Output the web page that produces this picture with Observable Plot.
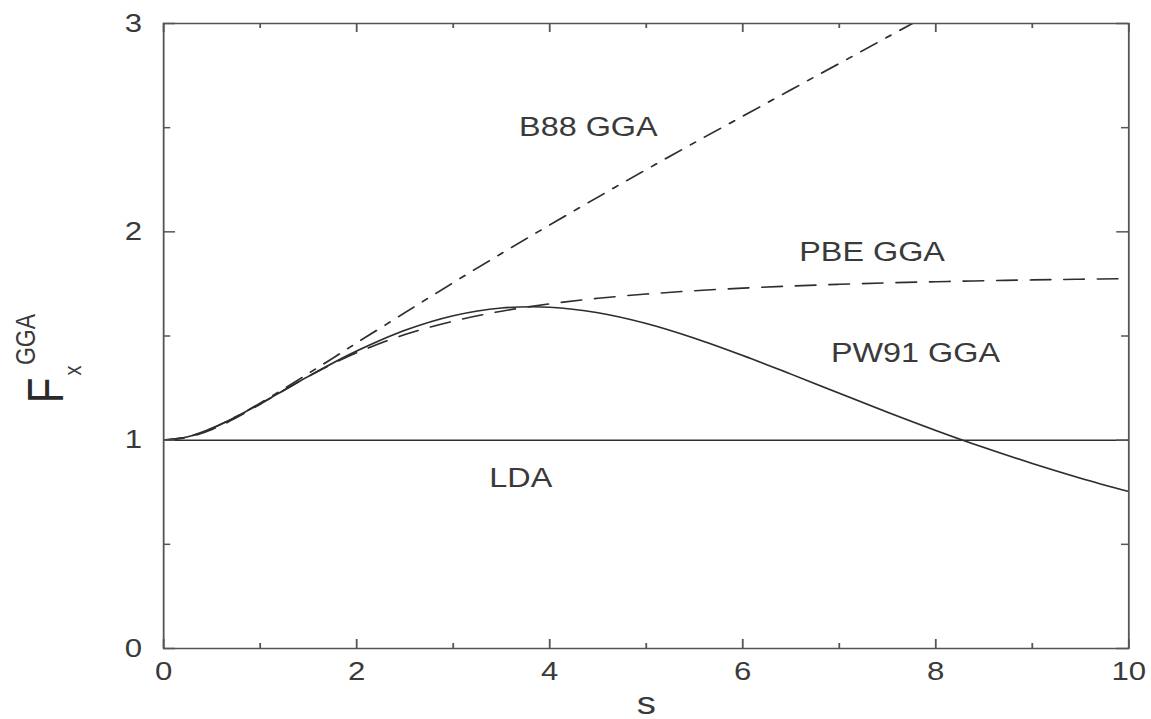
<!DOCTYPE html>
<html><head><meta charset="utf-8">
<script src="https://cdn.jsdelivr.net/npm/d3@7"></script>
<script src="https://cdn.jsdelivr.net/npm/@observablehq/plot@0.6"></script>
<style>html,body{margin:0;padding:0;background:#fff;overflow:hidden}</style>
</head><body><div id="chart"></div>
<script>
// reduced gradient s
const s    = [0, 0.25, 0.5, 0.75, 1, 1.25, 1.5, 1.75, 2, 2.5, 3, 3.5, 4, 4.5, 5, 5.5, 6, 6.5, 7, 7.5, 8, 8.5, 9, 9.5, 10];
// enhancement factors
const b88  = [1, 1.016, 1.057, 1.113, 1.178, 1.248, 1.320, 1.393, 1.467, 1.612, 1.756, 1.896, 2.033, 2.167, 2.299, 2.428, 2.555, 2.682, 2.808, 2.935, 3.060, 3.180, 3.300, 3.415, 3.530];
const pbe  = [1, 1.0135, 1.0514, 1.1070, 1.1724, 1.2404, 1.3060, 1.3661, 1.4197, 1.5069, 1.5714, 1.6189, 1.6542, 1.6809, 1.7013, 1.7172, 1.7298, 1.7399, 1.7481, 1.7549, 1.7605, 1.7652, 1.7692, 1.7726, 1.7756];
const pw91 = [1, 1.0160, 1.0568, 1.1121, 1.1750, 1.2408, 1.3062, 1.3691, 1.4277, 1.5272, 1.5973, 1.6344, 1.6383, 1.6118, 1.5602, 1.4897, 1.4067, 1.3169, 1.2249, 1.1342, 1.0469, 0.9646, 0.8881, 0.8176, 0.7531];
const lda  = [1];

const labelText = ["B88 GGA", "PBE GGA", "PW91 GGA", "LDA"];
const labelS    = [4.40, 7.34, 7.79, 3.70];
const labelF    = [2.50, 1.90, 1.416, 0.816];

const xTicks = [0, 2, 4, 6, 8, 10];
const xMinor = [1, 3, 5, 7, 9];
const yTicks = [0, 1, 2, 3];
const yMinor = [0.5, 1.5, 2.5];

const toRows = (vals) => s.map((v, i) => ({s: v, F: vals[i]}));
const labels = labelText.map((t, i) => ({t, s: labelS[i], F: labelF[i]}));

const W = 960, H = 719, ML = 136, MR = 19, MT = 23, MB = 71;
const PW = W - ML - MR, PH = H - MT - MB;
const ink = "#2e2e2e", frameC = "#555", textC = "#3a3a3a";

const chart = Plot.plot({
  width: W, height: H,
  marginLeft: ML, marginRight: MR, marginTop: MT, marginBottom: MB,
  style: {fontFamily: "'Liberation Sans', Arial, sans-serif", fontSize: "26px", color: textC, background: "#fff"},
  x: {domain: [0, 10]},
  y: {domain: [0, 3]},
  marks: [
    Plot.ruleY(lda, {stroke: ink, strokeWidth: 1.5}),
    Plot.line(toRows(pw91), {x: "s", y: "F", stroke: ink, strokeWidth: 1.6, curve: "catmull-rom", clip: true}),
    Plot.line(toRows(pbe), {x: "s", y: "F", stroke: ink, strokeWidth: 1.6, strokeDasharray: "17,11", curve: "catmull-rom", clip: true}),
    Plot.line(toRows(b88), {x: "s", y: "F", stroke: ink, strokeWidth: 1.6, strokeDasharray: "16,9,5,9", curve: "catmull-rom", clip: true}),
    Plot.frame({stroke: frameC, strokeWidth: 1.5}),
    Plot.ruleX(xTicks, {stroke: frameC, strokeWidth: 1.5, insetTop: PH - 9}),
    Plot.ruleX(xTicks, {stroke: frameC, strokeWidth: 1.5, insetBottom: PH - 9}),
    Plot.ruleX(xMinor, {stroke: frameC, strokeWidth: 1.5, insetTop: PH - 5}),
    Plot.ruleX(xMinor, {stroke: frameC, strokeWidth: 1.5, insetBottom: PH - 5}),
    Plot.ruleY(yTicks, {stroke: frameC, strokeWidth: 1.5, insetRight: PW - 10}),
    Plot.ruleY(yTicks, {stroke: frameC, strokeWidth: 1.5, insetLeft: PW - 10}),
    Plot.ruleY(yMinor, {stroke: frameC, strokeWidth: 1.5, insetRight: PW - 6}),
    Plot.ruleY(yMinor, {stroke: frameC, strokeWidth: 1.5, insetLeft: PW - 6}),
    Plot.axisX(xTicks, {anchor: "bottom", tickSize: 0, tickPadding: 13, label: null, fontSize: 26, fill: textC, tickFormat: d => String(d)}),
    Plot.axisY(yTicks, {anchor: "left", tickSize: 0, tickPadding: 18, label: null, fontSize: 26, fill: textC, tickFormat: d => String(d)}),
    Plot.text(labels, {x: "s", y: "F", text: "t", fontSize: 27, fill: textC, textAnchor: "middle", lineAnchor: "middle"}),
    Plot.text(["s"], {frameAnchor: "bottom", dy: 55, fontSize: 32, fill: textC, textAnchor: "middle", lineAnchor: "middle"}),
    Plot.text(["F"], {frameAnchor: "left", rotate: -90, dx: -97, dy: 54.5, fontSize: 42, fill: "#2a2a2a", textAnchor: "middle", lineAnchor: "middle"}),
    Plot.text(["x"], {frameAnchor: "left", rotate: -90, dx: -75.4, dy: 34.5, fontSize: 20, fill: textC, textAnchor: "middle", lineAnchor: "middle"}),
    Plot.text(["GGA"], {frameAnchor: "left", rotate: -90, dx: -114.7, dy: 3.5, fontSize: 23, fill: textC, textAnchor: "middle", lineAnchor: "middle"})
  ]
});

// The reference is horizontally stretched; stretch the whole drawing the same way.
chart.setAttribute("viewBox", `0 0 ${W} ${H}`);
chart.setAttribute("preserveAspectRatio", "none");
chart.setAttribute("width", 1151);
chart.setAttribute("height", 719);
chart.style.width = "1151px";
chart.style.height = "719px";
chart.style.maxWidth = "none";
document.getElementById("chart").appendChild(chart);
</script>
</body></html>
